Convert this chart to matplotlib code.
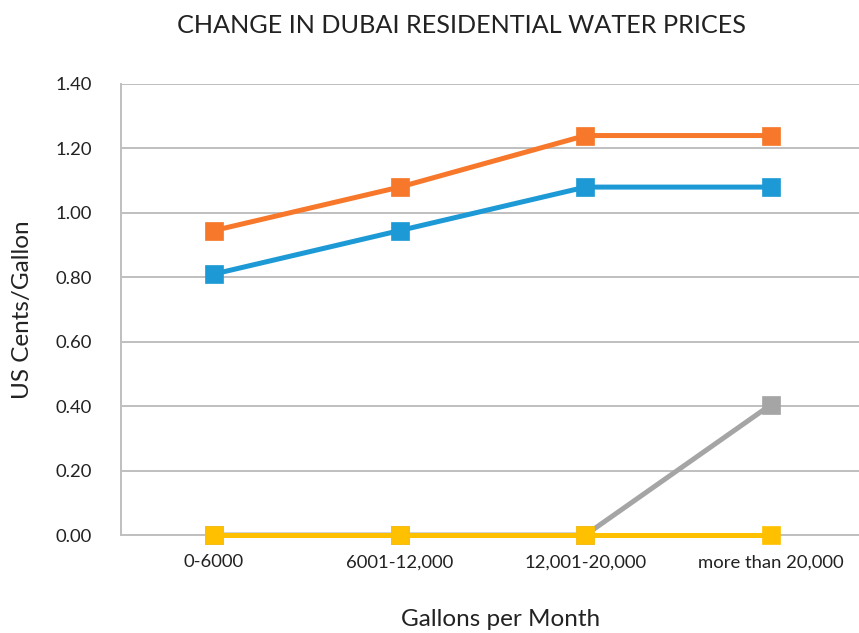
import matplotlib
matplotlib.use("Agg")
import matplotlib.pyplot as plt

# ── Data ─────────────────────────────────────────────────────────────────────
categories = ["0-6000", "6001-12,000", "12,001-20,000", "more than 20,000"]
orange_vals = [0.945, 1.08, 1.24, 1.24]
blue_vals   = [0.81, 0.945, 1.08, 1.08]
gray_vals   = [0.0, 0.0, 0.0, 0.405]
yellow_vals = [0.0, 0.0, 0.0, 0.0]
yticks = [0.0, 0.2, 0.4, 0.6, 0.8, 1.0, 1.2, 1.4]

plt.rcParams["font.family"] = ["Lato", "DejaVu Sans"]

fig = plt.figure(figsize=(8.59, 6.33), dpi=100, facecolor="white")
ax = fig.add_axes([0.1409, 0.1548, 0.865, 0.7125])

x = list(range(len(categories)))
series = [
    (orange_vals, "#F7782A"),
    (blue_vals,   "#1D9AD6"),
    (gray_vals,   "#A5A5A5"),
    (yellow_vals, "#FFC000"),
]
for vals, col in series:
    ax.plot(x, vals, color=col, linewidth=3.6, marker="s", markersize=13,
            markerfacecolor=col, markeredgecolor=col, markeredgewidth=0.5,
            solid_capstyle="butt", clip_on=False, zorder=3)

ax.set_xlim(-0.5, 3.5)
ax.set_ylim(0, 1.4)
ax.set_yticks(yticks)
ax.set_yticklabels([f"{v:.2f}" for v in yticks])
ax.set_xticks(x)
ax.set_xticklabels(categories)

ax.yaxis.grid(True, color="#BFBFBF", linewidth=1.4, zorder=0)
ax.set_axisbelow(True)
for s in ["top", "right"]:
    ax.spines[s].set_visible(False)
ax.spines["left"].set_color("#BFBFBF")
ax.spines["left"].set_linewidth(1.4)
ax.spines["bottom"].set_color("#BFBFBF")
ax.spines["bottom"].set_linewidth(1.4)
ax.tick_params(axis="both", length=0, labelsize=13.3, colors="#222222")
ax.tick_params(axis="y", pad=21)
ax.tick_params(axis="x", pad=14)

ax.set_xlabel("Gallons per Month", fontsize=17.5, color="#222222", labelpad=24)
ax.xaxis.set_label_coords(0.511, -0.165)
ax.set_ylabel("US Cents/Gallon", fontsize=17.5, color="#222222", labelpad=16)
fig.text(0.537, 0.960, "CHANGE IN DUBAI RESIDENTIAL WATER PRICES",
         ha="center", va="center", fontsize=18.2, color="#222222")

plt.savefig("out.png", dpi=100, facecolor=fig.get_facecolor())
plt.close()
